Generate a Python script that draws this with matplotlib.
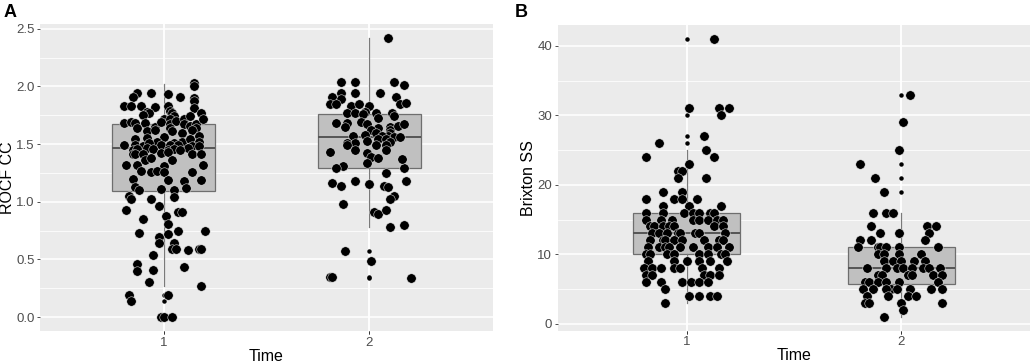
import numpy as np
import matplotlib.pyplot as plt

plt.rcParams['font.family'] = ['Liberation Sans', 'DejaVu Sans']

# ---- data ----
# panel A: ROCF CC, (jitter offset, value) per subject
a1_jit = [0.15, 0.15, 0.15, 0.15, -0.13, -0.15, -0.06, 0.02, 0.08,
          -0.19, -0.16, -0.11, -0.04, 0.02, 0.15, 0.18,
          -0.08, -0.07, -0.10, 0.03, 0.04, 0.05, 0.00, 0.03,
          -0.19, -0.16, -0.14, -0.09, -0.04, -0.01, 0.03, 0.06, 0.10, 0.13, 0.10, 0.13, 0.16, 0.16, 0.19, 0.03,
          -0.13, -0.08, -0.04, 0.04, 0.09, 0.14, 0.17,
          -0.14, -0.08, 0.00, -0.03, 0.05, 0.09, 0.13, 0.17,
          -0.19, -0.14, -0.10, -0.07, -0.01, 0.03, 0.07, 0.14, 0.17,
          -0.15, -0.13, -0.08, -0.05, 0.02, 0.05, 0.12,
          -0.15, -0.14, -0.10, -0.01, 0.02, 0.14, 0.18, 0.08,
          -0.09, -0.06, 0.04, -0.18, -0.13, 0.00, 0.19,
          -0.11, -0.06, -0.03, 0.00, 0.14, -0.15, 0.02, 0.10, 0.18,
          -0.14, -0.01, 0.05, 0.11, -0.12, -0.17, -0.16, -0.06, 0.05,
          -0.18, -0.02, 0.07, 0.09, 0.01, 0.02, -0.10,
          -0.12, 0.02, 0.07, 0.20, -0.02, -0.02, 0.05,
          0.04, 0.06, 0.12, 0.17, 0.18, -0.05,
          -0.13, -0.13, -0.05, 0.10, -0.07, 0.18,
          -0.17, -0.16, 0.02, -0.01, 0.00, 0.04]
a1_val = [2.03, 2.00, 1.90, 1.87, 1.94, 1.91, 1.94, 1.93, 1.91,
          1.83, 1.83, 1.83, 1.82, 1.83, 1.81, 1.77,
          1.78, 1.77, 1.75, 1.79, 1.77, 1.74, 1.72, 1.72,
          1.68, 1.69, 1.68, 1.68, 1.65, 1.69, 1.67, 1.70, 1.72, 1.74, 1.67, 1.66, 1.67, 1.64, 1.72, 1.64,
          1.64, 1.61, 1.62, 1.61, 1.60, 1.62, 1.57,
          1.54, 1.55, 1.56, 1.52, 1.51, 1.52, 1.54, 1.52,
          1.49, 1.49, 1.48, 1.51, 1.49, 1.49, 1.49, 1.48, 1.48,
          1.45, 1.46, 1.47, 1.46, 1.45, 1.46, 1.47,
          1.41, 1.41, 1.41, 1.42, 1.43, 1.41, 1.41, 1.45,
          1.36, 1.38, 1.36, 1.32, 1.32, 1.31, 1.32,
          1.27, 1.26, 1.27, 1.26, 1.26, 1.20, 1.19, 1.18, 1.19,
          1.13, 1.11, 1.10, 1.12, 1.10, 1.05, 1.02, 1.02, 1.04,
          0.93, 0.96, 0.91, 0.91, 0.88, 0.81, 0.85,
          0.73, 0.72, 0.75, 0.75, 0.69, 0.64, 0.64,
          0.59, 0.59, 0.58, 0.59, 0.59, 0.54,
          0.46, 0.40, 0.41, 0.43, 0.30, 0.27,
          0.19, 0.14, 0.19, 0.0, 0.0, 0.0]

a2_jit = [0.09, -0.14, -0.07, 0.12, 0.17, -0.14, -0.07, 0.05, -0.18, 0.13,
          -0.14, -0.19, -0.16, -0.09, -0.05, 0.00, 0.15, 0.18,
          -0.11, -0.07, -0.02, 0.03, 0.11, 0.12, 0.04, -0.03,
          -0.16, -0.11, -0.04, -0.01, 0.04, 0.10, 0.10, 0.14, 0.17, -0.12,
          0.01, 0.03, -0.02, -0.08, 0.10, 0.09, 0.12, 0.15, 0.06,
          -0.11, -0.07, -0.01, 0.04, 0.08, 0.10,
          -0.11, 0.03, 0.08, -0.07, 0.08, -0.01,
          -0.19, 0.01, 0.04, -0.01, -0.13, -0.16, 0.17, 0.16,
          0.08, -0.07, 0.18, -0.18, -0.14, 0.00, 0.07, 0.09,
          0.12, 0.10, -0.13, 0.02, 0.04, 0.08, 0.10, 0.17,
          -0.12, 0.01, -0.19, -0.18, 0.20]
a2_val = [2.42, 2.04, 2.04, 2.04, 2.01, 1.94, 1.94, 1.94, 1.91, 1.91,
          1.89, 1.85, 1.85, 1.83, 1.85, 1.83, 1.85, 1.86,
          1.77, 1.77, 1.78, 1.77, 1.77, 1.74, 1.73, 1.76,
          1.68, 1.68, 1.69, 1.67, 1.64, 1.65, 1.62, 1.66, 1.67, 1.65,
          1.62, 1.60, 1.58, 1.57, 1.60, 1.57, 1.56, 1.56, 1.57,
          1.51, 1.51, 1.53, 1.54, 1.54, 1.52,
          1.49, 1.49, 1.49, 1.45, 1.45, 1.42,
          1.43, 1.39, 1.38, 1.34, 1.31, 1.29, 1.29, 1.37,
          1.25, 1.18, 1.18, 1.16, 1.14, 1.15, 1.14, 1.13,
          1.05, 1.02, 0.98, 0.91, 0.89, 0.93, 0.78, 0.80,
          0.57, 0.49, 0.35, 0.35, 0.34]

# panel B: Brixton SS
b1_jit = [0.13, 0.01, 0.15, 0.20, 0.16, 0.08, -0.13, 0.09, -0.19, 0.13, 0.01,
          -0.04, -0.02, 0.09, -0.04, -0.11, -0.02,
          -0.19, -0.06, -0.02, 0.05, -0.11, 0.01, 0.16,
          -0.19, -0.11, -0.01, 0.03, 0.06, 0.11, 0.13,
          -0.19, -0.12, -0.07, 0.03, 0.06, 0.10, 0.14, 0.17,
          -0.17, -0.15, -0.11, -0.08, -0.06, 0.13, 0.17,
          -0.16, -0.13, -0.09, -0.04, -0.03, 0.04, 0.06, 0.18,
          -0.17, -0.11, -0.10, -0.06, -0.02, 0.08, 0.15, 0.17,
          -0.18, -0.13, -0.10, -0.08, -0.03, 0.03, 0.10, 0.14, 0.20,
          -0.19, -0.17, -0.09, -0.06, 0.06, 0.10, 0.16, 0.18,
          -0.18, -0.06, 0.00, 0.06, 0.11, 0.19,
          -0.20, -0.16, -0.12, -0.06, -0.03, 0.07, 0.15,
          -0.19, -0.16, 0.08, 0.11, 0.15,
          -0.19, -0.12, -0.02, 0.02, 0.06, 0.10,
          -0.10, 0.01, 0.06, 0.11, 0.14, -0.10]
b1_val = [41, 31, 31, 31, 30, 27, 26, 25, 24, 24, 23,
          22, 22, 21, 21, 19, 19,
          18, 18, 18, 18, 17, 17, 17,
          16, 16, 16, 16, 16, 16, 16,
          15, 15, 15, 15, 15, 15, 15, 15,
          14, 14, 14, 14, 14, 14, 14,
          13, 13, 13, 13, 13, 13, 13, 13,
          12, 12, 12, 12, 12, 12, 12, 12,
          11, 11, 11, 11, 11, 11, 11, 11, 11,
          10, 10, 10, 10, 10, 10, 10, 10,
          9, 9, 9, 9, 9, 9,
          8, 8, 8, 8, 8, 8, 8,
          7, 7, 7, 7, 7,
          6, 6, 6, 6, 6, 6,
          5, 4, 4, 4, 4, 3]

b2_jit = [0.04, 0.01, -0.01, -0.19, -0.12, -0.08,
          -0.13, -0.07, -0.04,
          -0.14, 0.12, 0.16, 0.13, -0.10, -0.01,
          -0.19, -0.14, 0.11,
          -0.20, -0.11, -0.10, -0.07, -0.01, 0.17,
          -0.11, -0.08, -0.01, 0.09,
          -0.08, -0.04, 0.00, 0.06, 0.11,
          -0.16, -0.07, -0.02, 0.01, 0.05, 0.10, 0.13, 0.18,
          -0.11, 0.03, 0.05, 0.15, 0.19, -0.09,
          -0.17, -0.15, -0.11, -0.07, -0.01, 0.17,
          -0.18, -0.13, -0.05, -0.02, 0.04, 0.14, 0.19, -0.07,
          -0.16, -0.06, 0.03, 0.07,
          -0.17, -0.15, 0.00, 0.19, 0.01, -0.08]
b2_val = [33, 29, 25, 23, 21, 19,
          16, 16, 16,
          14, 14, 14, 13, 13, 13,
          12, 12, 12,
          11, 11, 11, 11, 11, 11,
          10, 10, 10, 10,
          9, 9, 9, 9, 9,
          8, 8, 8, 8, 8, 8, 8, 8,
          7, 7, 7, 7, 7, 7,
          6, 6, 6, 6, 6, 6,
          5, 5, 5, 5, 5, 5, 5, 5,
          4, 4, 4, 4,
          3, 3, 3, 3, 2, 1]

# box summaries (q1, median, q3, lower whisker, upper whisker, outliers)
a_q1, a_med, a_q3 = [1.095, 1.29], [1.465, 1.565], [1.675, 1.76]
a_wlo, a_whi = [0.27, 0.785], [2.02, 2.42]
a_out = [[0.19, 0.14, 0.0], [0.57, 0.49, 0.35, 0.34]]
b_q1, b_med, b_q3 = [10, 5.75], [13, 8], [16, 11]
b_wlo, b_whi = [3, 1], [25, 16]
b_out = [[26, 27, 30, 41], [19, 21, 23, 33]]

times = ['1', '2']

fig = plt.figure(figsize=(10.34, 3.63), dpi=100)
axA = fig.add_axes([0.0387, 0.088, 0.438, 0.846])
axB = fig.add_axes([0.5394, 0.089, 0.4568, 0.842])


def panel(ax, jits, vals, q1, med, q3, wlo, whi, out, ylim, yticks, yminor, ylab, fmt):
    ax.set_facecolor('#EBEBEB')
    for sp in ax.spines.values():
        sp.set_visible(False)
    ax.set_yticks(yminor, minor=True)
    ax.set_yticks(yticks)
    ax.set_yticklabels([fmt.format(t) for t in yticks])
    ax.set_xticks([1, 2])
    ax.set_xticklabels(times)
    ax.grid(which='major', color='white', lw=1.1, zorder=0)
    ax.grid(which='minor', axis='y', color='white', lw=0.55, zorder=0)
    ax.set_axisbelow(True)
    ax.tick_params(which='major', colors='#333333', labelcolor='#4D4D4D',
                   labelsize=9.5, length=2.5, width=0.6, pad=1.5)
    ax.tick_params(which='minor', length=0)
    stats = []
    for i in range(2):
        stats.append(dict(q1=q1[i], med=med[i], q3=q3[i], whislo=wlo[i],
                          whishi=whi[i], fliers=out[i]))
    ax.bxp(stats, positions=[1, 2], widths=0.5, showcaps=False, patch_artist=True,
           boxprops=dict(facecolor='#C0C0C0', edgecolor='#6E6E6E', lw=0.9),
           medianprops=dict(color='#555555', lw=1.4),
           whiskerprops=dict(color='#7A7A7A', lw=0.9),
           flierprops=dict(marker='o', markersize=2.2, markerfacecolor='black',
                           markeredgecolor='black'),
           zorder=2)
    for i in range(2):
        x = (i + 1) + np.array(jits[i])
        ax.scatter(x, vals[i], s=46, c='black', edgecolors='#EEEEEE',
                   linewidths=0.35, zorder=3)
    ax.set_xlim(0.4, 2.6)
    ax.set_ylim(*ylim)
    ax.set_xlabel('Time', fontsize=11.5, labelpad=0)
    ax.set_ylabel(ylab, fontsize=11.5, labelpad=1)


panel(axA, [a1_jit, a2_jit], [a1_val, a2_val], a_q1, a_med, a_q3, a_wlo, a_whi, a_out,
      (-0.121, 2.541), [0, 0.5, 1.0, 1.5, 2.0, 2.5], [0.25, 0.75, 1.25, 1.75, 2.25],
      'ROCF CC', '{:.1f}')
panel(axB, [b1_jit, b2_jit], [b1_val, b2_val], b_q1, b_med, b_q3, b_wlo, b_whi, b_out,
      (-1, 43), [0, 10, 20, 30, 40], [5, 15, 25, 35], 'Brixton SS', '{:d}')

fig.text(0.003, 0.99, 'A', fontsize=13, fontweight='bold', va='top', ha='left')
fig.text(0.498, 0.99, 'B', fontsize=13, fontweight='bold', va='top', ha='left')

fig.savefig('out.png', dpi=100)
